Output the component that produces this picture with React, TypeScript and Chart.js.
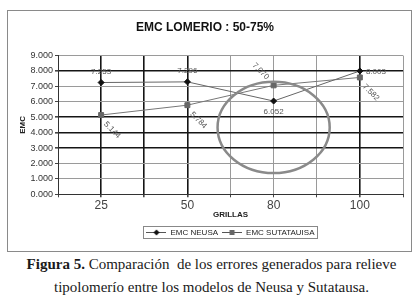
import React, { useEffect, useRef } from 'react';
import { Chart, registerables } from 'chart.js';

Chart.register(...registerables);

// ---- data ----
const CATEGORIES = ['25', '50', '80', '100'];
const NEUSA = [7.253, 7.296, 6.052, 8.003];
const SUTATAUSA = [5.144, 5.784, 7.07, 7.582];
const Y_TICKS = [0, 1, 2, 3, 4, 5, 6, 7, 8, 9];
const SERIES_NAMES = ['EMC NEUSA', 'EMC SUTATAUISA'];
const TITLE = 'EMC LOMERIO : 50-75%';
const X_TITLE = 'GRILLAS';
const Y_TITLE = 'EMC';
const CAPTION_BOLD = 'Figura 5.';
const CAPTION_1 = ' Comparación  de los errores generados para relieve';
const CAPTION_2 = 'tipolomerío entre los modelos de Neusa y Sutatausa.';
// highlighted region, in data units (category index, EMC)
const ELLIPSE = { x: 2, y: 4.34, rx: 0.65, ry: 2.96 };

// ---- styles ----
const NEUSA_LABEL_POS = ['top', 'top', 'bottom', 'right'];
const SUTA_LABEL_POS = ['diagDown', 'diagDown', 'diagUp', 'diagDown'];
const DARK_X = [0, 0.5, 1, 3];
const DARK_Y = [3, 4, 5, 8];
const FONT = '"Liberation Sans", Arial, sans-serif';

function legendImage(kind: 'diamond' | 'square') {
  const c = document.createElement('canvas');
  c.width = 20;
  c.height = 9;
  const g = c.getContext('2d')!;
  g.strokeStyle = '#555';
  g.lineWidth = 1;
  g.beginPath();
  g.moveTo(0, 4.5);
  g.lineTo(20, 4.5);
  g.stroke();
  if (kind === 'diamond') {
    g.fillStyle = '#111';
    g.beginPath();
    g.moveTo(10, 1.5);
    g.lineTo(13, 4.5);
    g.lineTo(10, 7.5);
    g.lineTo(7, 4.5);
    g.closePath();
    g.fill();
  } else {
    g.fillStyle = '#666';
    g.fillRect(7.5, 2, 5, 5);
  }
  return c;
}

const ellipsePlugin = {
  id: 'ellipseMark',
  afterDatasetsDraw(chart: any) {
    const { ctx, scales } = chart;
    const x = scales.x;
    const y = scales.y;
    const cx = x.getPixelForValue(ELLIPSE.x);
    const cy = y.getPixelForValue(ELLIPSE.y);
    const rx = Math.abs(x.getPixelForValue(ELLIPSE.x + ELLIPSE.rx) - cx);
    const ry = Math.abs(y.getPixelForValue(ELLIPSE.y + ELLIPSE.ry) - cy);
    ctx.save();
    ctx.beginPath();
    ctx.ellipse(cx, cy, rx, ry, 0, 0, Math.PI * 2);
    ctx.strokeStyle = '#8a8a8a';
    ctx.lineWidth = 2.5;
    ctx.stroke();
    ctx.restore();
  },
};

const labelPlugin = {
  id: 'valueLabels',
  afterDatasetsDraw(chart: any) {
    const ctx = chart.ctx;
    ctx.save();
    ctx.font = `8px ${FONT}`;
    ctx.fillStyle = '#555';
    chart.data.datasets.forEach((ds: any, di: number) => {
      const meta = chart.getDatasetMeta(di);
      const positions = di === 0 ? NEUSA_LABEL_POS : SUTA_LABEL_POS;
      meta.data.forEach((pt: any, i: number) => {
        const text = ds.data[i].y.toFixed(3);
        const pos = positions[i];
        ctx.save();
        ctx.textBaseline = 'middle';
        if (pos === 'top') {
          ctx.textAlign = 'center';
          ctx.fillText(text, pt.x, pt.y - 11);
        } else if (pos === 'bottom') {
          ctx.textAlign = 'center';
          ctx.fillText(text, pt.x, pt.y + 11);
        } else if (pos === 'right') {
          ctx.textAlign = 'left';
          ctx.fillText(text, pt.x + 6, pt.y + 1);
        } else if (pos === 'diagDown') {
          ctx.translate(pt.x + 4, pt.y + 8);
          ctx.rotate(Math.PI / 4);
          ctx.textAlign = 'left';
          ctx.fillText(text, 0, 0);
        } else {
          ctx.translate(pt.x - 6, pt.y - 7);
          ctx.rotate(Math.PI / 4);
          ctx.textAlign = 'right';
          ctx.fillText(text, 0, 0);
        }
        ctx.restore();
      });
    });
    ctx.restore();
  },
};

const legendPlugin = {
  id: 'legendShiftBorder',
  afterLayout(chart: any) {
    const lg = chart.legend;
    if (!lg) return;
    const ca = chart.chartArea;
    const shift = (ca.left + ca.right) / 2 - (lg.left + lg.right) / 2;
    lg.left += shift;
    lg.right += shift;
  },
  afterDraw(chart: any) {
    const lg = chart.legend;
    if (!lg || !lg.legendHitBoxes || !lg.legendHitBoxes.length) return;
    const hb = lg.legendHitBoxes;
    const l = Math.min(...hb.map((h: any) => h.left)) - 3;
    const r = Math.max(...hb.map((h: any) => h.left + h.width)) + 3;
    const t = Math.min(...hb.map((h: any) => h.top)) - 2;
    const b = Math.max(...hb.map((h: any) => h.top + h.height)) + 2;
    const ctx = chart.ctx;
    ctx.save();
    ctx.strokeStyle = '#888';
    ctx.lineWidth = 1;
    ctx.strokeRect(Math.round(l) + 0.5, Math.round(t) + 0.5, Math.round(r - l), Math.round(b - t));
    ctx.restore();
  },
};

export default function App() {
  const ref = useRef<HTMLCanvasElement>(null);

  useEffect(() => {
    document.body.style.margin = '0';
    const imgs = [legendImage('diamond'), legendImage('square')];
    const gridColor = (dark: number[]) => (c: any) =>
      c.tick && dark.includes(c.tick.value) ? '#151515' : '#9a9a9a';
    const gridWidth = (dark: number[]) => (c: any) =>
      c.tick && dark.includes(c.tick.value) ? 1.6 : 1;

    const chart = new Chart(ref.current!, {
      type: 'line',
      data: {
        datasets: [
          {
            label: SERIES_NAMES[0],
            data: NEUSA.map((v, i) => ({ x: i, y: v })),
            borderColor: '#666',
            borderWidth: 1,
            pointStyle: 'rectRot',
            pointRadius: 3,
            pointBackgroundColor: '#111',
            pointBorderColor: '#111',
            pointBorderWidth: 1,
            tension: 0,
          },
          {
            label: SERIES_NAMES[1],
            data: SUTATAUSA.map((v, i) => ({ x: i, y: v })),
            borderColor: '#777',
            borderWidth: 1,
            pointStyle: 'rect',
            pointRadius: 3.5,
            pointBackgroundColor: '#666',
            pointBorderColor: '#666',
            pointBorderWidth: 1,
            tension: 0,
          },
        ],
      },
      options: {
        animation: false,
        responsive: false,
        maintainAspectRatio: false,
        devicePixelRatio: 1,
        layout: { padding: { top: 0, left: 0, right: 8, bottom: 4.5 } },
        plugins: {
          tooltip: { enabled: false },
          title: {
            display: true,
            text: TITLE,
            color: '#111',
            font: { family: FONT, size: 12, weight: 'bold' },
            padding: { top: 10, bottom: 21.2 },
          },
          legend: {
            position: 'bottom',
            labels: {
              font: { family: FONT, size: 8 },
              color: '#222',
              usePointStyle: true,
              pointStyleWidth: 20,
              padding: 4,
              generateLabels: () =>
                SERIES_NAMES.map((t, i) => ({
                  text: t,
                  pointStyle: imgs[i] as any,
                  datasetIndex: i,
                  fontColor: '#222',
                  lineWidth: 0,
                  strokeStyle: 'transparent',
                  fillStyle: 'transparent',
                  hidden: false,
                })),
            },
          },
        },
        scales: {
          x: {
            type: 'linear',
            min: -0.5,
            max: 3.5,
            afterBuildTicks: (s: any) => {
              const t: any[] = [];
              for (let i = -1; i < CATEGORIES.length * 2; i++) t.push({ value: i / 2 });
              s.ticks = t;
            },
            afterFit: (s: any) => {
              s.height = 30.2;
            },
            ticks: {
              autoSkip: false,
              maxRotation: 0,
              padding: 1,
              color: '#444',
              font: { family: FONT, size: 12 },
              callback: (v: any) => (Number.isInteger(v) && CATEGORIES[v] !== undefined ? CATEGORIES[v] : ''),
            },
            grid: {
              color: gridColor(DARK_X),
              lineWidth: gridWidth(DARK_X),
              tickLength: 3,
              tickColor: '#444',
            },
            border: { display: true, color: '#333', width: 1 },
            title: {
              display: true,
              text: X_TITLE,
              color: '#222',
              font: { family: FONT, size: 8, weight: 'bold' },
              padding: { top: 0, bottom: 4.7 },
            },
          },
          y: {
            type: 'linear',
            min: 0,
            max: 9,
            afterBuildTicks: (s: any) => {
              s.ticks = Y_TICKS.map((v) => ({ value: v }));
            },
            afterFit: (s: any) => {
              s.width = 51;
            },
            ticks: {
              padding: 2,
              color: '#333',
              font: { family: FONT, size: 9 },
              callback: (v: any) => Number(v).toFixed(3),
            },
            grid: {
              color: gridColor(DARK_Y),
              lineWidth: gridWidth(DARK_Y),
              tickLength: 3,
              tickColor: '#444',
            },
            border: { display: true, color: '#333', width: 1 },
            title: {
              display: true,
              text: Y_TITLE,
              color: '#222',
              font: { family: FONT, size: 8, weight: 'bold' },
              padding: { top: 10.6, bottom: 0 },
            },
          },
        },
      } as any,
      plugins: [ellipsePlugin, labelPlugin, legendPlugin],
    });
    return () => chart.destroy();
  }, []);

  return (
    <div style={{ position: 'relative', width: 419, height: 306, background: '#fff', overflow: 'hidden' }}>
      <div
        style={{
          position: 'absolute',
          left: 7,
          top: 10,
          width: 405,
          height: 242,
          border: '1px solid #8a8a8a',
          boxSizing: 'border-box',
        }}
      />
      <canvas
        ref={ref}
        width={404}
        height={241}
        style={{ position: 'absolute', left: 7, top: 10, width: 404, height: 241 }}
      />
      <div
        style={{
          position: 'absolute',
          left: 4,
          top: 252.5,
          width: 415,
          textAlign: 'center',
          fontFamily: '"Liberation Serif", "Times New Roman", serif',
          fontSize: 15,
          lineHeight: '23px',
          color: '#1a1a1a',
          whiteSpace: 'pre',
        }}
      >
        <div>
          <b>{CAPTION_BOLD}</b>
          {CAPTION_1}
        </div>
        <div>{CAPTION_2}</div>
      </div>
    </div>
  );
}
